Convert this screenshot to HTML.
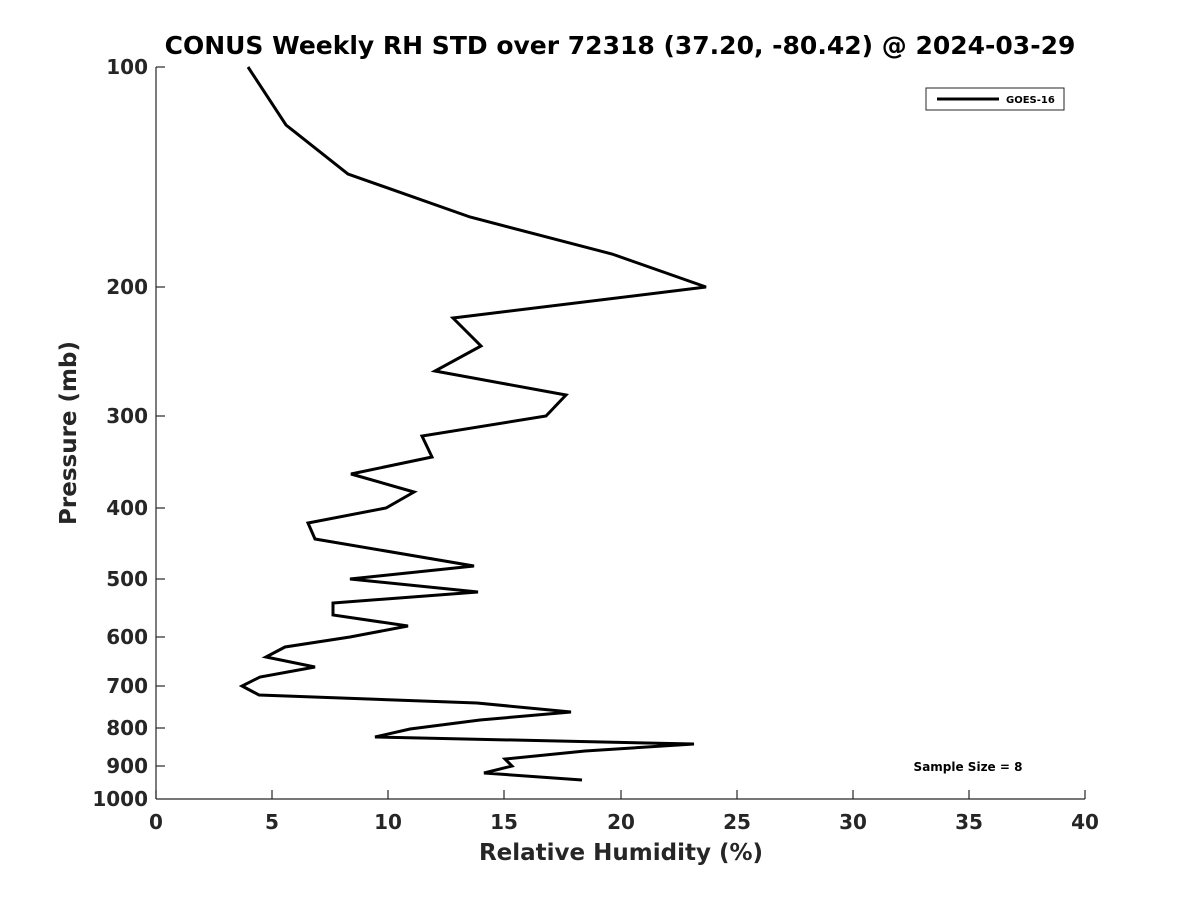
<!DOCTYPE html>
<html><head><style>body{margin:0;background:#fff}</style></head><body>
<svg width="1200" height="900" xmlns="http://www.w3.org/2000/svg" font-family="'DejaVu Sans','Liberation Sans',sans-serif" font-weight="bold">
<rect width="1200" height="900" fill="#fff"/>
<text x="620" y="54" text-anchor="middle" font-size="25" fill="#000">CONUS Weekly RH STD over 72318 (37.20, -80.42) @ 2024-03-29</text>
<g stroke="#262626" stroke-width="1.2" fill="none">
<line x1="156" y1="67" x2="156" y2="799"/>
<line x1="156" y1="799" x2="1085" y2="799"/>
</g>
<g stroke="#262626" stroke-width="1.2">
<line x1="156" y1="67" x2="165" y2="67"/><line x1="156" y1="287" x2="165" y2="287"/><line x1="156" y1="416" x2="165" y2="416"/><line x1="156" y1="508" x2="165" y2="508"/><line x1="156" y1="579" x2="165" y2="579"/><line x1="156" y1="637" x2="165" y2="637"/><line x1="156" y1="686" x2="165" y2="686"/><line x1="156" y1="728" x2="165" y2="728"/><line x1="156" y1="766" x2="165" y2="766"/>
<line x1="156" y1="799" x2="156" y2="790"/><line x1="272" y1="799" x2="272" y2="790"/><line x1="388" y1="799" x2="388" y2="790"/><line x1="504" y1="799" x2="504" y2="790"/><line x1="621" y1="799" x2="621" y2="790"/><line x1="737" y1="799" x2="737" y2="790"/><line x1="853" y1="799" x2="853" y2="790"/><line x1="969" y1="799" x2="969" y2="790"/><line x1="1085" y1="799" x2="1085" y2="790"/>
</g>
<g font-size="20" fill="#262626" text-anchor="end">
<text x="148" y="74">100</text><text x="148" y="294">200</text><text x="148" y="423">300</text><text x="148" y="515">400</text><text x="148" y="586">500</text><text x="148" y="644">600</text><text x="148" y="693">700</text><text x="148" y="735">800</text><text x="148" y="773">900</text><text x="148" y="806">1000</text>
</g>
<g font-size="20" fill="#262626" text-anchor="middle">
<text x="156" y="829">0</text><text x="272" y="829">5</text><text x="388" y="829">10</text><text x="504" y="829">15</text><text x="621" y="829">20</text><text x="737" y="829">25</text><text x="853" y="829">30</text><text x="969" y="829">35</text><text x="1085" y="829">40</text>
</g>
<text x="621" y="860" text-anchor="middle" font-size="23" fill="#262626">Relative Humidity (%)</text>
<text transform="translate(76,433) rotate(-90)" text-anchor="middle" font-size="23" fill="#262626">Pressure (mb)</text>
<polyline fill="none" stroke="#000" stroke-width="3" stroke-linejoin="miter" points="248,67 286,125 348,174 470,217 612,254 706,287 453,318 481,346 435,371 566,395 546,416 422,436 432,457 351,474 414,492 386,508 308,523 315,539 474,566 350,579 478,592 333,603 333,615 408,626 350,637 285,647 266,657 315,667 260,677 242,686 259,695 477,703 571,712 480,720 410,729 375,737 694,744 585,751 505,759 512,766 484,773 582,780"/>
<rect x="926" y="88" width="138" height="22" fill="#fff" stroke="#262626" stroke-width="1"/>
<line x1="937" y1="99" x2="999" y2="99" stroke="#000" stroke-width="3"/>
<text x="1006" y="103" font-size="10" fill="#000">GOES-16</text>
<text x="968" y="771" text-anchor="middle" font-size="12" fill="#000">Sample Size = 8</text>
</svg>
</body></html>
